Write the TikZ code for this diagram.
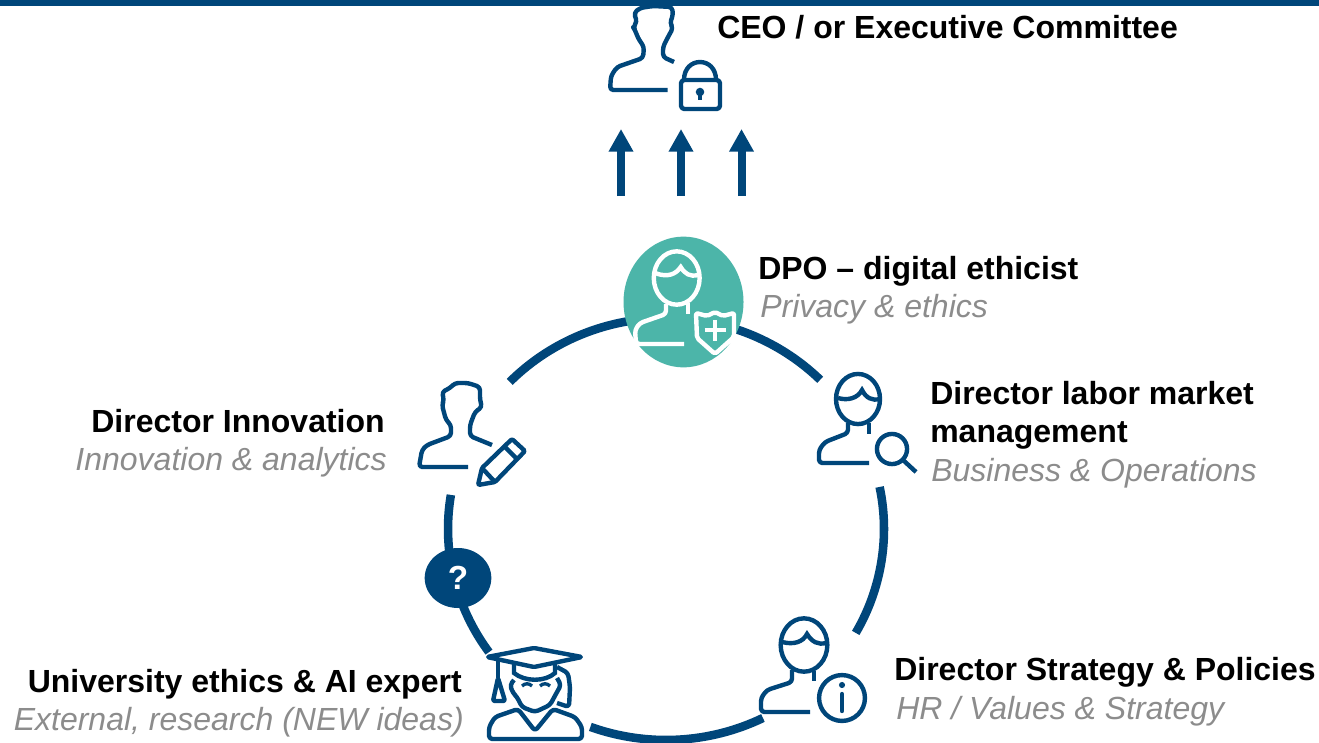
\documentclass[tikz,border=0pt]{standalone}
\usepackage{fontspec}
\setmainfont{Liberation Sans}
\usetikzlibrary{shapes.geometric,arrows.meta}
\definecolor{navy}{HTML}{00467A}
\definecolor{tealc}{HTML}{4CB5A9}
\definecolor{greyt}{HTML}{8C8C8C}
\tikzset{
 ring/.style={draw=navy,line width=6.4pt,line cap=butt},
 icon/.style={draw=navy,line width=3.3pt,line join=round,rounded corners=2.5pt},
 iconw/.style={draw=white,line width=3.3pt,line join=round,rounded corners=2.5pt},
 upar/.style={draw=navy,line width=6pt,-{Triangle[width=17.5pt,length=17pt,fill=navy]}},
 head/.style={font=\fontsize{24}{28}\selectfont\bfseries,text=black,inner sep=0pt},
 sub/.style={font=\fontsize{24}{28}\selectfont\itshape,text=greyt,inner sep=0pt},
}
\newcommand\ringarc[4]{%
 \pgfmathsetmacro\kk{4/3*tan((#4-#3)/4)}
 \coordinate (#1) at ({666+218*cos(#3)},{529+211*sin(#3)});
 \coordinate (#2) at ({666+218*cos(#4)},{529+211*sin(#4)});
 \draw[ring] (#1) .. controls ({666+218*cos(#3)-\kk*218*sin(#3)},{529+211*sin(#3)+\kk*211*cos(#3)}) and ({666+218*cos(#4)+\kk*218*sin(#4)},{529+211*sin(#4)-\kk*211*cos(#4)}) .. (#2);
}
\begin{document}
\begin{tikzpicture}[x=0.75pt,y=-0.75pt]
\useasboundingbox (0,0) rectangle (1319,742);
\fill[white] (0,0) rectangle (1319,742);

% ring
\ringarc{ra}{rb}{224.2}{264}
\ringarc{rc}{rd}{285}{315}
\ringarc{re}{rf}{-11.5}{29.5}
\ringarc{rg}{rh}{63.6}{110.3}
\ringarc{ri}{rj}{144.3}{189.3}

% DPO disc
\node[ellipse,fill=tealc,minimum width=90pt,minimum height=98pt,inner sep=0pt] (dpo) at (683.5,302) {};
% question disc
\node[ellipse,fill=navy,minimum width=50pt,minimum height=45pt,inner sep=0pt,text=white,font=\fontsize{25}{27}\selectfont\bfseries] (qm) at (458,578) {?};

% arrows
\coordinate (a1s) at (621,196); \coordinate (a1e) at (621,129);
\coordinate (a2s) at (681,196); \coordinate (a2e) at (681,129);
\coordinate (a3s) at (741.5,196); \coordinate (a3e) at (741.5,129);
\draw[upar] (a1s) -- (a1e);
\draw[upar] (a2s) -- (a2e);
\draw[upar] (a3s) -- (a3e);

% CEO icon
\draw[icon] (667.5,90) -- (610,90) -- (611,76) -- (617,67) -- (643,58) -- (644,47) -- (638,38) -- (635,30) -- (633,27) -- (637,22) -- (634,13) -- (640,8) -- (653,6) -- (672,7) -- (673,15) -- (670,23) -- (673,28) -- (668,37) -- (663,47) -- (663,57) -- (674,62);
\draw[icon] (681,80) rectangle (720,109);
\draw[navy,line width=3.3pt] (684,80) .. controls (684,56) and (716,56) .. (716,80);
\fill[navy] (700,92) circle (3.2pt);
\draw[navy,line width=2.4pt] (700,92) -- (700,100);

% top bar
\fill[navy] (0,0) rectangle (1319,6.5);

% DPO icon
\draw[white,line width=3.3pt] (676.7,278) ellipse [x radius=17.2pt,y radius=20pt];
\draw[white,line width=3.3pt] (655,273) .. controls (668,278) and (676,274) .. (680.7,267) .. controls (685,274) and (690,277) .. (698,275);
\draw[iconw] (684,344) -- (636,344) -- (635,330) -- (640,323) -- (666,314) -- (666,304);
\draw[white,line width=3.3pt] (688,303) -- (688,314);
\draw[iconw,rounded corners=1.5pt] (696,313) -- (707,316) -- (715,312) -- (723,316) -- (734,313) -- (734,337) -- (715,354) -- (697,338) -- cycle;
\draw[white,line width=3.3pt] (715,320) -- (715,341) (704.5,330) -- (725.5,330);

% labor market icon
\draw[navy,line width=3.3pt] (858,399) ellipse [x radius=16.5pt,y radius=18.8pt];
\draw[navy,line width=3.3pt] (838,398) .. controls (848,401) and (858,398) .. (862,390) .. controls (866,398) and (872,401) .. (880,399);
\draw[icon] (869,463) -- (819,463) -- (819,450) -- (825,442) -- (848,433) -- (848,423);
\draw[navy,line width=3.3pt] (869,423) -- (869,434);
\draw[navy,line width=3.3pt] (892,449) circle (11.3pt);
\draw[navy,line width=3.3pt] (903,460) -- (916,472);

% innovation icon
\draw[icon] (468,467) -- (419,467) -- (422,450) -- (427,445) -- (451,436) -- (451,425) -- (446,420) -- (442,405) -- (444,400) -- (442,392) -- (450,388) -- (455,383) -- (468,383) -- (480,387) -- (480,400) -- (482,407) -- (475,412) -- (470,425) -- (470,436) -- (492,445);
\draw[icon,rounded corners=1pt] (478,485) -- (482,468) -- (512,439) -- (525,451) -- (495,482) -- cycle;
\draw[navy,line width=3.3pt] (482,468) -- (495,482) (505,447) -- (517,459);

% graduate icon
\draw[icon,rounded corners=1pt] (487,657) -- (534,648) -- (582,657) -- (534,667) -- cycle;
\draw[navy,line width=3.3pt] (514,664) -- (514,673) .. controls (525,682) and (545,682) .. (555,673) -- (555,664);
\draw[navy,line width=3.3pt] (498,661) -- (498,678);
\draw[icon,rounded corners=1pt] (498,678) -- (493,701) -- (505,701) -- cycle;
\draw[icon] (514,680) -- (510,685) -- (513,693) -- (517,697) -- (522,707) -- (535,712) -- (550,705) -- (557,692) -- (561,685) -- (557,678);
\draw[icon] (557,667) -- (568,673) -- (570,687) -- (569,707) -- (557,703);
\draw[navy,line width=2.5pt] (522,686) .. controls (525,683) and (529,683) .. (532,686) (540,686) .. controls (543,683) and (547,683) .. (550,686);
\draw[icon] (489,739) -- (489,727) -- (495,717) -- (518,709) -- (535,731) -- (553,709) -- (575,717) -- (582,727) -- (582,739) -- cycle;

% strategy icon
\draw[navy,line width=3.3pt] (804,645) ellipse [x radius=17.5pt,y radius=20pt];
\draw[navy,line width=3.3pt] (782,642) .. controls (794,645) and (803,642) .. (807,634) .. controls (812,642) and (818,645) .. (826,643);
\draw[icon] (810,712) -- (761,712) -- (761,698) -- (767,690) -- (792,682) -- (792,670);
\draw[navy,line width=3.3pt] (814,671) -- (814,681);
\draw[navy,line width=3.3pt] (842,698) circle (17.2pt);
\fill[navy] (842,685) circle (2.3pt);
\draw[navy,line width=3.3pt,line cap=round] (842,694) -- (842,711);

% labels
\node[head,anchor=base west] (t1) at (717,39) {CEO / or Executive Committee};
\node[head,anchor=base west] (t2) at (758,279) {DPO – digital ethicist};
\node[sub,anchor=base west] (t3) at (760,317) {Privacy \& ethics};
\node[head,anchor=base west] (t4) at (930,404) {Director labor market};
\node[head,anchor=base west] (t5) at (930,442) {management};
\node[sub,anchor=base west] (t6) at (931,481) {Business \& Operations};
\node[head,anchor=base east] (t7) at (385,432) {Director Innovation};
\node[sub,anchor=base east] (t8) at (387,470) {Innovation \& analytics};
\node[head,anchor=base east] (t9) at (462,692) {University ethics \& AI expert};
\node[sub,anchor=base east] (t10) at (464,730) {External, research (NEW ideas)};
\node[head,anchor=base west] (t11) at (894,680) {Director Strategy \& Policies};
\node[sub,anchor=base west] (t12) at (896,719) {HR / Values \& Strategy};
\end{tikzpicture}
\end{document}
